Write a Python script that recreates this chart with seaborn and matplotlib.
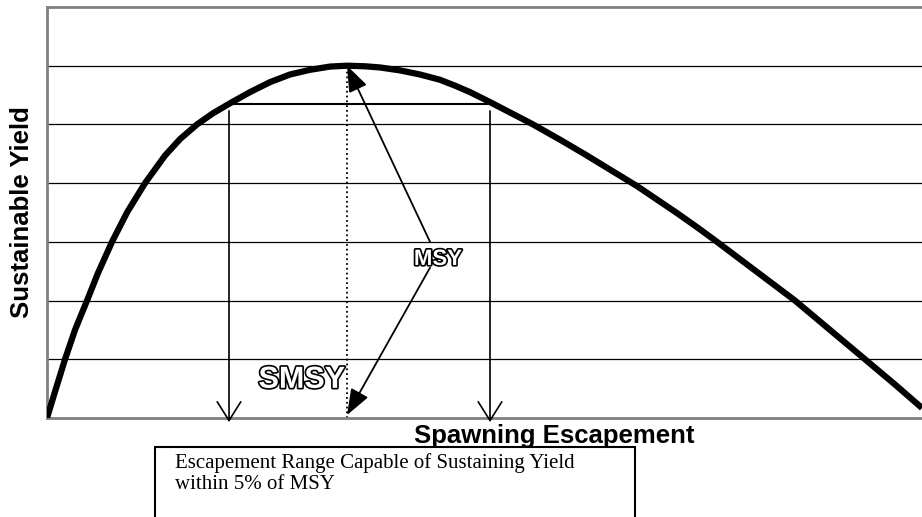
import numpy as np
import pandas as pd
from matplotlib import pyplot as plt
from matplotlib.patches import Rectangle
import matplotlib.patheffects as pe
import seaborn as sns

# yield curve (escapement, sustainable yield)
escapement = [0.0, 0.08, 0.18, 0.28, 0.40, 0.51, 0.65, 0.80, 0.98, 1.18,
              1.33, 1.50, 1.66, 1.83, 2.03, 2.23, 2.43, 2.63, 2.83, 3.00,
              3.18, 3.33, 3.53, 3.73, 3.93, 4.08, 4.23, 4.43, 4.86, 5.13,
              5.38, 5.63, 5.90, 6.10, 6.30, 6.50, 6.70, 7.09, 7.48, 7.83,
              8.18, 8.48, 8.75]
sust_yield = [0.0, 0.45, 1.0, 1.5, 2.0, 2.47, 3.0, 3.5, 4.0, 4.47,
              4.75, 5.0, 5.19, 5.36, 5.55, 5.72, 5.85, 5.93, 5.985, 6.0,
              5.99, 5.97, 5.92, 5.85, 5.76, 5.66, 5.55, 5.38, 5.0, 4.74,
              4.49, 4.23, 3.95, 3.72, 3.49, 3.25, 3.0, 2.5, 2.0, 1.5,
              1.0, 0.57, 0.17]
grid_levels = [1, 2, 3, 4, 5, 6]

s_msy = 3.0
msy = 6.0
range_low, range_high = 1.82, 4.43
range_yield = 5.35

df = pd.DataFrame({'S': escapement, 'Y': sust_yield})

sns.set_style('white')
fig = plt.figure(figsize=(9.22, 5.17), dpi=100)
ax = fig.add_axes([0.051, 0.1915, 0.949, 0.795])

sns.lineplot(data=df, x='S', y='Y', color='black', lw=4.5, sort=False, ax=ax,
             zorder=5, solid_joinstyle='round', solid_capstyle='butt')

ax.set_xlim(0, 8.75)
ax.set_ylim(0, 7)
ax.set_yticks(grid_levels)
ax.set_xticks([])
ax.set_yticklabels([])
ax.tick_params(length=0)
ax.yaxis.grid(True, color='black', lw=0.9)
ax.set_axisbelow(True)
for side in ['left', 'top', 'bottom']:
    ax.spines[side].set_color('#808080')
    ax.spines[side].set_linewidth(2)
ax.spines['right'].set_visible(False)

ax.set_xlabel('')
ax.set_ylabel('')

# S_MSY dotted line
ax.plot([s_msy, s_msy], [0, msy], ls=':', color='black', lw=1.3)

# 5% range bar and arrows down to the axis
ax.plot([range_low, range_high], [range_yield, range_yield], color='black', lw=1.5)
for xv in [range_low, range_high]:
    ax.annotate('', xy=(xv, -0.07), xytext=(xv, range_yield - 0.12),
                arrowprops=dict(arrowstyle='->,head_length=1.35,head_width=0.85',
                                color='black', lw=1.2, shrinkA=0, shrinkB=0),
                annotation_clip=False)

# MSY arrows
outline = [pe.withStroke(linewidth=2.4, foreground='black')]
ax.annotate('', xy=(s_msy, msy), xytext=(3.83, 3.0),
            arrowprops=dict(arrowstyle='-|>,head_length=1.6,head_width=0.6',
                            color='black', lw=1.3, shrinkA=0, shrinkB=0))
ax.annotate('', xy=(s_msy, 0.05), xytext=(3.83, 2.56),
            arrowprops=dict(arrowstyle='-|>,head_length=1.6,head_width=0.6',
                            color='black', lw=1.3, shrinkA=0, shrinkB=0))
ax.text(3.91, 2.7, 'MSY', color='white', fontsize=16, fontweight='bold',
        family=['Liberation Sans Narrow', 'Liberation Sans', 'DejaVu Sans'],
        ha='center', va='center', path_effects=outline, zorder=6)
ax.text(2.98, 0.65, 'SMSY', color='white', fontsize=22, fontweight='bold',
        family=['Liberation Sans Narrow', 'Liberation Sans', 'DejaVu Sans'],
        ha='right', va='center', path_effects=outline, zorder=6)

# axis titles
fig.text(0.024, 0.59, 'Sustainable Yield', rotation=90, fontsize=18.5,
         fontweight='bold', family=['Liberation Sans', 'DejaVu Sans'],
         color='black', ha='center', va='center')
fig.text(0.601, 0.157, 'Spawning Escapement', fontsize=18.5, fontweight='bold',
         family=['Liberation Sans', 'DejaVu Sans'], color='black',
         ha='center', va='center')

# caption box
fig.add_artist(Rectangle((0.168, -0.05), 0.521, 0.185, transform=fig.transFigure,
                         fill=False, edgecolor='black', lw=1.5))
fig.text(0.19, 0.123, 'Escapement Range Capable of Sustaining Yield\nwithin 5% of MSY',
         fontsize=15, family=['Liberation Serif', 'DejaVu Serif'], color='black',
         ha='left', va='top', linespacing=1.15)

plt.savefig('out.png', dpi=100)
